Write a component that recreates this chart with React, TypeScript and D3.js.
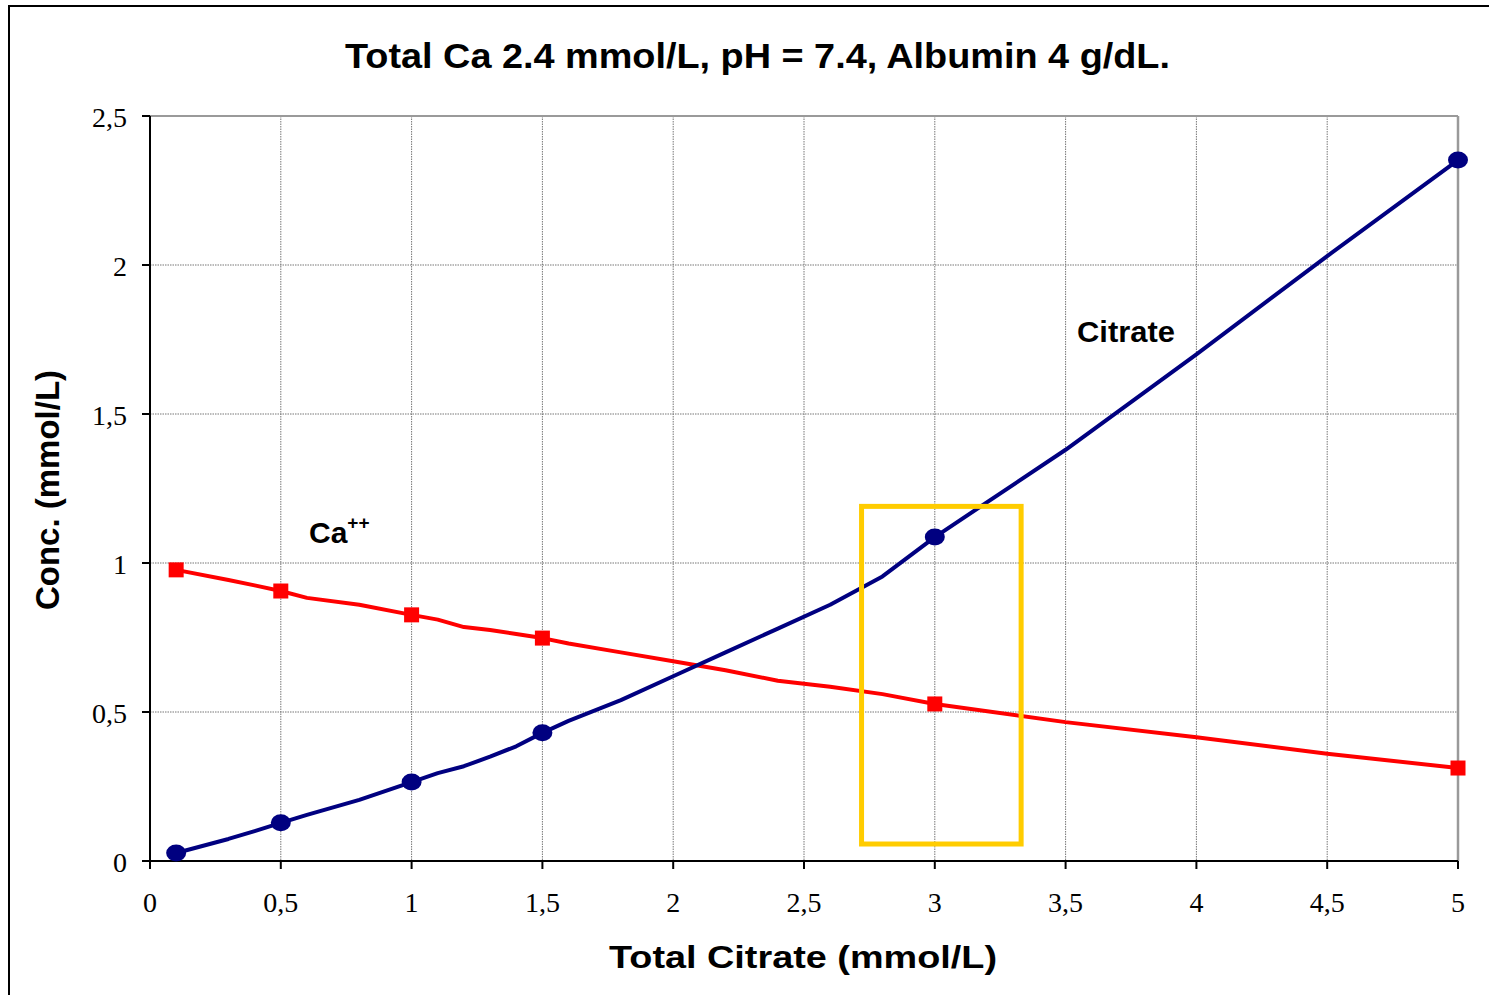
import React from "react";
import * as d3 from "d3";

const xTicks = [0, 0.5, 1, 1.5, 2, 2.5, 3, 3.5, 4, 4.5, 5];
const yTicks = [0, 0.5, 1, 1.5, 2, 2.5];

const lineX = [0.1, 0.3, 0.4, 0.5, 0.6, 0.8, 1.0, 1.1, 1.2, 1.3, 1.4, 1.5, 1.6, 1.8, 2.0, 2.2, 2.4, 2.6, 2.8, 3.0, 3.5, 4.0, 4.5, 5.0];
const citrateY = [0.027, 0.074, 0.1, 0.128, 0.155, 0.205, 0.265, 0.295, 0.318, 0.35, 0.385, 0.43, 0.47, 0.54, 0.62, 0.7, 0.78, 0.86, 0.955, 1.087, 1.38, 1.7, 2.03, 2.352];
const calciumY = [0.977, 0.943, 0.925, 0.906, 0.883, 0.86, 0.826, 0.81, 0.785, 0.775, 0.762, 0.748, 0.73, 0.7, 0.67, 0.64, 0.605, 0.585, 0.56, 0.527, 0.466, 0.415, 0.36, 0.312];

const markerX = [0.1, 0.5, 1, 1.5, 3, 5];
const citrateMarkers = [0.027, 0.128, 0.265, 0.43, 1.087, 2.352];
const calciumMarkers = [0.977, 0.906, 0.826, 0.748, 0.527, 0.312];

const highlightX = [2.72, 3.33];
const highlightY = [0.057, 1.19];

const fmt = (v: number) => String(v).replace(".", ",");

export default function App() {
  const W = 1489, H = 995;
  const x = d3.scaleLinear().domain([0, 5]).range([150, 1458]);
  const y = d3.scaleLinear().domain([0, 2.5]).range([861, 116]);
  const line = d3.line<[number, number]>().x(d => x(d[0])).y(d => y(d[1]));
  const citData = lineX.map((v, i) => [v, citrateY[i]] as [number, number]);
  const caData = lineX.map((v, i) => [v, calciumY[i]] as [number, number]);
  const sans = "Arial, 'Liberation Sans', sans-serif";
  const serif = "'Times New Roman', 'Liberation Serif', serif";
  return (
    <svg width={W} height={H} style={{ position: "absolute", left: 0, top: 0, background: "#fff" }}>
      <rect x={9} y={6} width={W + 20} height={H + 20} fill="#fff" stroke="#000" strokeWidth={2} />
      <text x={345} y={68} fontFamily={sans} fontWeight="bold" fontSize={35} textLength={825} lengthAdjust="spacingAndGlyphs">
        Total Ca 2.4 mmol/L, pH = 7.4, Albumin 4 g/dL.
      </text>
      {/* grid */}
      {xTicks.filter(t => t > 0 && t < 5).map(t => (
        <line key={"gx" + t} x1={x(t)} x2={x(t)} y1={y(2.5)} y2={y(0)} stroke="#777" strokeWidth={1} strokeDasharray="1.5,1" />
      ))}
      {yTicks.filter(t => t > 0 && t < 2.5).map(t => (
        <line key={"gy" + t} x1={x(0)} x2={x(5)} y1={y(t)} y2={y(t)} stroke="#777" strokeWidth={1} strokeDasharray="1.5,1" />
      ))}
      {/* plot border top/right */}
      <line x1={x(0)} x2={x(5)} y1={y(2.5)} y2={y(2.5)} stroke="#9a9a9a" strokeWidth={2} />
      <line x1={x(5)} x2={x(5)} y1={y(2.5)} y2={y(0)} stroke="#9a9a9a" strokeWidth={2.5} />
      {/* axes */}
      <line x1={x(0)} x2={x(0)} y1={y(2.5)} y2={y(0)} stroke="#000" strokeWidth={2} />
      <line x1={x(0) - 8} x2={x(5)} y1={y(0)} y2={y(0)} stroke="#000" strokeWidth={2} />
      {yTicks.map(t => (
        <g key={"yt" + t}>
          <line x1={x(0) - 8} x2={x(0)} y1={y(t)} y2={y(t)} stroke="#000" strokeWidth={2} />
          <text x={127} y={y(t)} dy="0.38em" textAnchor="end" fontFamily={serif} fontSize={28}>{fmt(t)}</text>
        </g>
      ))}
      {xTicks.map(t => (
        <g key={"xt" + t}>
          <line x1={x(t)} x2={x(t)} y1={y(0)} y2={y(0) + 8} stroke="#000" strokeWidth={2} />
          <text x={x(t)} y={912} textAnchor="middle" fontFamily={serif} fontSize={28}>{fmt(t)}</text>
        </g>
      ))}
      <text x={609} y={968} fontFamily={sans} fontWeight="bold" fontSize={31} textLength={388} lengthAdjust="spacingAndGlyphs">Total Citrate (mmol/L)</text>
      <text transform="translate(59,490) rotate(-90)" textAnchor="middle" fontFamily={sans} fontWeight="bold" fontSize={33}>Conc. (mmol/L)</text>
      {/* series */}
      <path d={line(caData) || ""} fill="none" stroke="#FF0000" strokeWidth={4} strokeLinejoin="round" />
      <path d={line(citData) || ""} fill="none" stroke="#000080" strokeWidth={4} strokeLinejoin="round" />
      {markerX.map((v, i) => (
        <rect key={"ca" + i} x={x(v) - 7.5} y={y(calciumMarkers[i]) - 7.5} width={15} height={15} fill="#FF0000" />
      ))}
      {markerX.map((v, i) => (
        <ellipse key={"ci" + i} cx={x(v)} cy={y(citrateMarkers[i])} rx={10} ry={8.5} fill="#000080" />
      ))}
      {/* highlight box */}
      <rect x={x(highlightX[0])} y={y(highlightY[1])} width={x(highlightX[1]) - x(highlightX[0])} height={y(highlightY[0]) - y(highlightY[1])}
        fill="none" stroke="#FFCC00" strokeWidth={5} />
      {/* labels */}
      <text x={1077} y={342} fontFamily={sans} fontWeight="bold" fontSize={29} textLength={98} lengthAdjust="spacingAndGlyphs">Citrate</text>
      <text x={309} y={543} fontFamily={sans} fontWeight="bold" fontSize={30}>
        Ca<tspan dy={-14} fontSize={19}>++</tspan>
      </text>
    </svg>
  );
}
